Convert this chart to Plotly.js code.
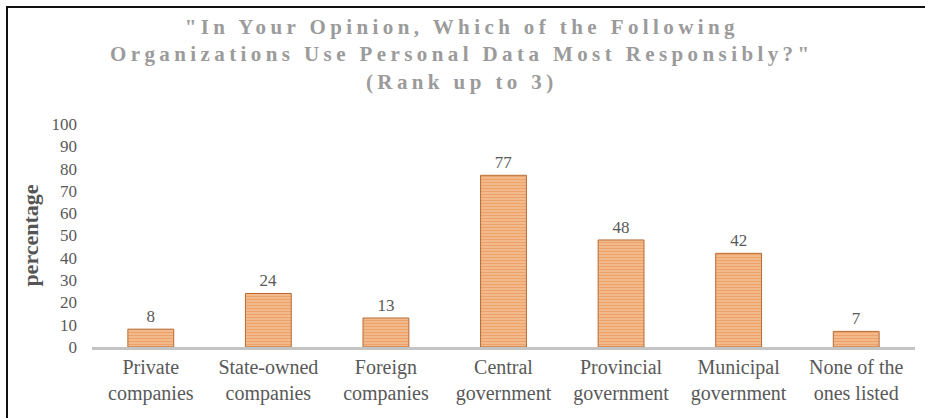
<!DOCTYPE html>
<html>
<head>
<meta charset="utf-8">
<script src="https://cdn.plot.ly/plotly-3.0.1.min.js"></script>
<style>
  html, body { margin: 0; padding: 0; background: #fff; }
  #frame { position: absolute; left: 6px; top: 6px; width: 919px; height: 412px;
           border-left: 2px solid #111; border-top: 2px solid #111; box-sizing: border-box; pointer-events: none; }
  #chart { position: absolute; left: 0; top: 0; width: 925px; height: 418px; }
</style>
</head>
<body>
<div id="chart"></div>
<div id="frame"></div>
<script>
// Organisations ranked as using personal data most responsibly (percent of respondents)
const categories = [
  "Private<br>companies",
  "State-owned<br>companies",
  "Foreign<br>companies",
  "Central<br>government",
  "Provincial<br>government",
  "Municipal<br>government",
  "None of the<br>ones listed"
];
const percentages = [8, 24, 13, 77, 48, 42, 7];
const yTicks = [0, 10, 20, 30, 40, 50, 60, 70, 80, 90, 100];
const chartTitle = "\"In Your Opinion, Which of the Following<br>Organizations Use Personal Data Most Responsibly?\"<br>(Rank up to 3)";

const serif = "Liberation Serif, Times New Roman, serif";

const trace = {
  type: "bar",
  x: categories,
  y: percentages,
  text: percentages.map(String),
  textposition: "outside",
  cliponaxis: false,
  textfont: { family: serif, size: 17, color: "#595959" },
  width: 0.39,
  marker: {
    color: "#f7c7a0",
    line: { color: "#b86a32", width: 1 },
    pattern: { shape: "-", fgcolor: "#df7f35", bgcolor: "#f7c7a0", size: 3, solidity: 0.6, fillmode: "overlay" }
  },
  hoverinfo: "x+y"
};

const layout = {
  width: 925,
  height: 418,
  margin: { l: 92, r: 10, t: 124, b: 71 },
  paper_bgcolor: "#ffffff",
  plot_bgcolor: "#ffffff",
  showlegend: false,
  bargap: 0.61,
  annotations: [{
    text: chartTitle,
    xref: "paper", yref: "paper",
    x: 0.45, y: 1.5,
    xanchor: "center", yanchor: "top",
    showarrow: false,
    align: "center",
    font: { family: serif, size: 21, color: "#9b9b9b", weight: "bold" }
  }],
  xaxis: {
    type: "category",
    showgrid: false,
    zeroline: false,
    showline: true,
    linecolor: "#c4c4c4",
    linewidth: 3,
    ticks: "",
    tickfont: { family: serif, size: 20, color: "#595959" },
    fixedrange: true
  },
  yaxis: {
    range: [0, 100],
    tickvals: yTicks,
    ticktext: yTicks.map(String),
    showgrid: false,
    zeroline: false,
    showline: false,
    ticks: "",
    ticklabelstandoff: 14,
    tickfont: { family: serif, size: 17, color: "#595959" },
    title: {
      text: "percentage",
      font: { family: serif, size: 22, color: "#555555", weight: "bold" },
      standoff: 6
    },
    fixedrange: true
  }
};

Plotly.newPlot("chart", [trace], layout, { displayModeBar: false, staticPlot: true }).then(function (gd) {
  // widen the tracking of the title lettering
  gd.querySelectorAll(".annotation-text").forEach(function (t) { t.style.letterSpacing = "4.4px"; });
});
</script>
</body>
</html>
